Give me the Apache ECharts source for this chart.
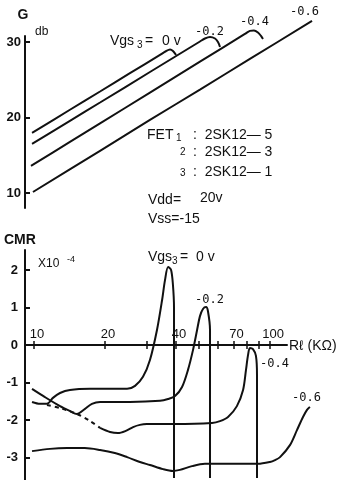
<!DOCTYPE html>
<html>
<head>
<meta charset="utf-8">
<script src="https://cdn.jsdelivr.net/npm/echarts@6/dist/echarts.min.js"></script>
<style>
  html, body { margin: 0; padding: 0; background: #fff; }
  #chart { width: 349px; height: 480px; }
</style>
</head>
<body>
<div id="chart"></div>
<script>
// upper plot: G (dB) against Rl (kOhm), one curve per Vgs3
const gainVgs0 = [[9.81, 17.95], [14.2, 21.02], [19.05, 23.44], [25.5, 25.86], [34.2, 28.29], [36.2, 28.77], [37.7, 29.0], [38.8, 28.8], [40.0, 28.28]]
const gainVgs02 = [[9.81, 16.49], [14.2, 19.56], [19.05, 21.98], [31.0, 26.02], [50.5, 30.06], [53.0, 30.46], [55.7, 30.66], [58.5, 30.46], [60.2, 30.0], [61.4, 29.34]]
const gainVgs04 = [[9.71, 13.58], [14.2, 16.76], [19.05, 19.21], [31.0, 23.3], [50.5, 27.39], [78.3, 31.06], [82.2, 31.47], [85.5, 31.52], [88.9, 31.26], [91.6, 30.8], [93.4, 30.4]]
const gainVgs06 = [[9.9, 10.13], [19.05, 15.58], [31.0, 19.67], [50.5, 23.7], [82.2, 27.75], [150.7, 32.78]]

// lower plot: CMR (x10^-4) against Rl (kOhm)
const cmrVgs0 = [[9.81, -1.52], [10.6, -1.57], [11.35, -1.57], [12.03, -1.41], [12.89, -1.28], [14.2, -1.2], [17.3, -1.17], [24.8, -1.17], [26.8, -1.09], [28.96, -0.85], [31.0, -0.4], [33.2, 0.4], [34.9, 1.2], [35.9, 1.73], [37.0, 2.08], [38.1, 2.0], [38.8, 1.6], [39.2, 1.0], [39.2, -3.55]]
const cmrVgs02 = [[9.81, -1.17], [11.13, -1.39], [12.89, -1.63], [14.2, -1.76], [15.2, -1.84], [16.4, -1.71], [17.6, -1.57], [19.05, -1.52], [25.5, -1.52], [34.2, -1.49], [37.0, -1.44], [39.6, -1.36], [42.4, -1.12], [44.9, -0.67], [47.2, -0.13], [49.1, 0.4], [50.5, 0.77], [52.0, 0.96], [53.6, 1.01], [54.6, 0.9], [55.7, 0.4], [55.7, -3.55]]
const cmrVgs04Dash = [[11.35, -1.6], [12.89, -1.68], [15.2, -1.84], [17.3, -2.03], [19.05, -2.21]]
const cmrVgs04 = [[19.05, -2.21], [21.0, -2.32], [22.7, -2.35], [24.5, -2.29], [26.3, -2.19], [28.1, -2.13], [30.1, -2.11], [39.6, -2.11], [56.8, -2.08], [61.4, -2.03], [66.4, -1.92], [72.4, -1.63], [76.9, -1.2], [79.1, -0.67], [80.7, -0.27], [82.2, -0.08], [84.7, -0.11], [87.2, -0.29], [88.1, -0.8], [88.1, -3.55]]
const cmrVgs06 = [[9.81, -2.83], [11.69, -2.77], [13.8, -2.75], [16.4, -2.75], [19.05, -2.8], [22.0, -2.88], [24.8, -2.99], [28.1, -3.12], [31.0, -3.2], [35.2, -3.31], [38.8, -3.36], [41.5, -3.33], [46.7, -3.23], [53.0, -3.17], [67.7, -3.17], [88.9, -3.17], [100, -3.12], [105, -3.07], [110.3, -2.99], [121.5, -2.67], [130.1, -2.27], [138, -1.92], [143.5, -1.73], [147.6, -1.65]]

const gainTicks = [10, 20, 30]
const cmrTicks = [-3, -2, -1, 0, 1, 2]
const rLabels = [10, 20, 40, 70, 100]
const rTicks = [10, 20, 30, 40, 50, 60, 70, 80, 90, 100]

const INK = '#111'
const SANS = 'Liberation Sans, Arial, sans-serif'
const MONO = 'DejaVu Sans Mono, monospace'

const chart = echarts.init(document.getElementById('chart'), null, { renderer: 'canvas' })

const txt = (x, y, text, size, extra = {}) => ({
  type: 'text',
  x,
  y,
  silent: true,
  style: {
    text,
    fontSize: size,
    fontFamily: extra.mono ? MONO : SANS,
    fontWeight: extra.bold ? 'bold' : 'normal',
    fill: INK,
    align: extra.align || 'left',
    verticalAlign: 'middle'
  }
})

const curve = (data, grid, dashed) => ({
  type: 'line',
  data,
  xAxisIndex: grid,
  yAxisIndex: grid,
  symbol: 'none',
  smooth: 0.3,
  clip: false,
  silent: true,
  lineStyle: { color: INK, width: 2, type: dashed ? [4, 4] : 'solid' }
})

// plotting range runs past the drawn Rl axis so the -0.6 curves fit
const plotRange = { type: 'log', min: 9.16, max: 162.9 }
const axisRange = { type: 'log', min: 9.16, max: 118 }
const cmrRange = { min: -3.6, max: 2.533 }
const zeroOffset = -135

const option = {
  animation: false,
  backgroundColor: '#fff',
  grid: [
    { left: 25, right: 29, top: 36, height: 172 },
    { left: 25, right: 29, top: 250, height: 230 },
    { left: 25, right: 62, top: 250, height: 230 }
  ],
  xAxis: [
    { gridIndex: 0, ...plotRange, show: false },
    { gridIndex: 1, ...plotRange, show: false },
    {
      gridIndex: 2,
      ...axisRange,
      position: 'bottom',
      offset: zeroOffset,
      axisLine: { onZero: false, lineStyle: { color: INK, width: 2 } },
      axisTick: { customValues: rTicks, inside: true, length: 4, lineStyle: { color: INK, width: 1.5 } },
      axisLabel: { customValues: rLabels, inside: true, margin: 4, padding: [0, 0, 0, 6], color: INK, fontSize: 13, fontFamily: SANS },
      splitLine: { show: false }
    },
    {
      gridIndex: 2,
      ...axisRange,
      position: 'bottom',
      offset: zeroOffset,
      axisLine: { show: false, onZero: false },
      axisTick: { customValues: rTicks, length: 4, lineStyle: { color: INK, width: 1.5 } },
      axisLabel: { show: false },
      splitLine: { show: false }
    }
  ],
  yAxis: [
    {
      gridIndex: 0,
      type: 'value',
      min: 8.01,
      max: 30.79,
      axisLine: { show: true, onZero: false, lineStyle: { color: INK, width: 2 } },
      axisTick: { show: true, customValues: gainTicks, inside: true, length: 5, lineStyle: { color: INK, width: 2 } },
      axisLabel: { customValues: gainTicks, margin: 4, color: INK, fontSize: 13, fontWeight: 'bold', fontFamily: SANS },
      splitLine: { show: false }
    },
    {
      gridIndex: 1,
      type: 'value',
      ...cmrRange,
      axisLine: { show: true, onZero: false, lineStyle: { color: INK, width: 2 } },
      axisTick: { show: true, customValues: cmrTicks, inside: true, length: 5, lineStyle: { color: INK, width: 2 } },
      axisLabel: { customValues: cmrTicks, margin: 7, color: INK, fontSize: 13, fontWeight: 'bold', fontFamily: SANS },
      splitLine: { show: false }
    },
    { gridIndex: 2, type: 'value', ...cmrRange, show: false }
  ],
  series: [
    curve(gainVgs0, 0),
    curve(gainVgs02, 0),
    curve(gainVgs04, 0),
    curve(gainVgs06, 0),
    curve(cmrVgs0, 1),
    curve(cmrVgs02, 1),
    curve(cmrVgs04Dash, 1, true),
    curve(cmrVgs04, 1),
    curve(cmrVgs06, 1)
  ],
  graphic: {
    elements: [
      // upper plot
      txt(23, 15, 'G', 14, { bold: true, align: 'center' }),
      txt(35, 32, 'db', 12),
      txt(110, 41, 'Vgs', 14),
      txt(137, 45, '3', 10),
      txt(145, 41, '=', 14),
      txt(162, 41, '0 v', 14),
      txt(195, 32, '-0.2', 12, { mono: true }),
      txt(240, 22, '-0.4', 12, { mono: true }),
      txt(290, 12, '-0.6', 12, { mono: true }),
      txt(147, 135, 'FET', 14),
      txt(176, 138, '1', 10),
      txt(180, 152, '2', 10),
      txt(180, 173, '3', 10),
      txt(193, 135, ':  2SK12— 5', 14),
      txt(193, 152, ':  2SK12— 3', 14),
      txt(193, 172, ':  2SK12— 1', 14),
      txt(148, 200, 'Vdd=', 14),
      txt(200, 198, '20v', 14),
      txt(148, 219, 'Vss=-15', 14),
      // lower plot
      txt(4, 240, 'CMR', 14, { bold: true }),
      txt(38, 264, 'X10', 12),
      txt(67, 260, '-4', 9),
      txt(148, 257, 'Vgs', 14),
      txt(172, 261, '3', 10),
      txt(180, 257, '=', 14),
      txt(196, 257, '0 v', 14),
      txt(195, 300, '-0.2', 12, { mono: true }),
      txt(260, 364, '-0.4', 12, { mono: true }),
      txt(292, 398, '-0.6', 12, { mono: true }),
      txt(289, 346, 'Rℓ (KΩ)', 14)
    ]
  }
}

chart.setOption(option)
window.addEventListener('resize', () => chart.resize())
</script>
</body>
</html>
